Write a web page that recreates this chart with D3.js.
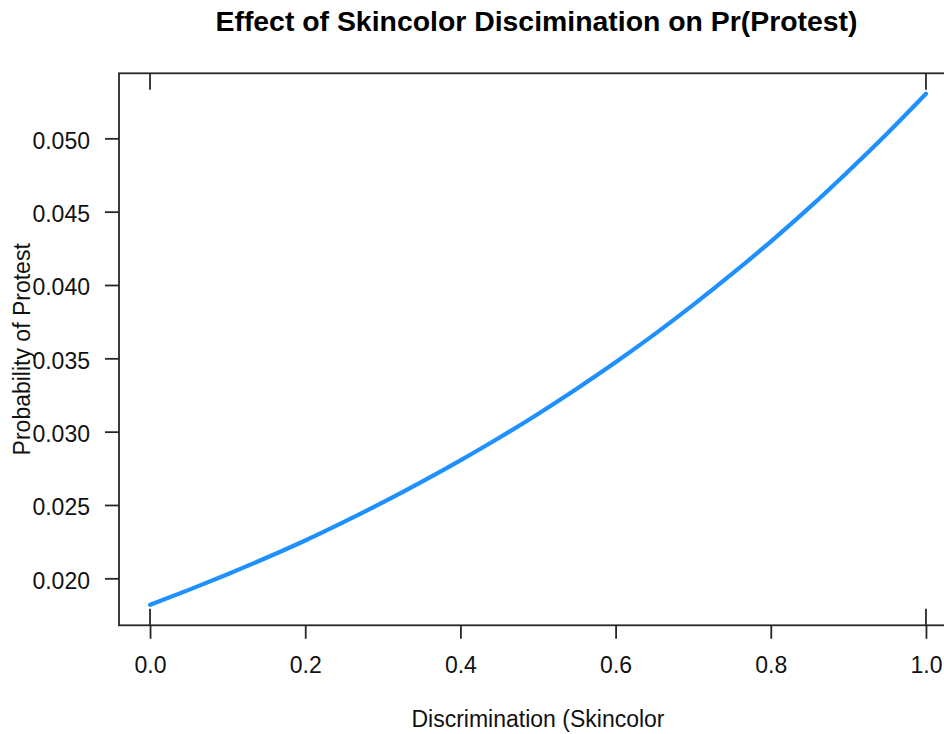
<!DOCTYPE html>
<html>
<head>
<meta charset="utf-8">
<script src="https://cdn.jsdelivr.net/npm/d3@7"></script>
<style>
  html, body { margin: 0; padding: 0; background: #fff; }
  svg { display: block; font-family: "Liberation Sans", Arial, sans-serif; }
</style>
</head>
<body>
<svg id="chart" width="944" height="734"></svg>
<script>
// Predicted probability of protest across the skincolor discrimination scale
const discrimination = [0.00, 0.05, 0.10, 0.15, 0.20, 0.25, 0.30, 0.35, 0.40, 0.45, 0.50,
                        0.55, 0.60, 0.65, 0.70, 0.75, 0.80, 0.85, 0.90, 0.95, 1.00];
const probProtest = [0.01819, 0.01921, 0.02028, 0.02140, 0.02258, 0.02385, 0.02517, 0.02657, 0.02804, 0.02958, 0.03121,
                     0.03293, 0.03473, 0.03663, 0.03864, 0.04075, 0.04296, 0.04529, 0.04776, 0.05033, 0.05304];
// Observed values of the discrimination variable (rug marks)
const rugValues = [0, 1];
const xTicks = [0.0, 0.2, 0.4, 0.6, 0.8, 1.0];
const yTicks = [0.020, 0.025, 0.030, 0.035, 0.040, 0.045, 0.050];

const titleText = "Effect of Skincolor Discimination on Pr(Protest)";
const xLabel = "Discrimination (Skincolor";
const yLabel = "Probability of Protest";

const svg = d3.select("#chart");
const W = 944, H = 734;
const plot = { left: 119, right: 957, top: 73.3, bottom: 625.3 };

// Base-graphics style 4% padding around the data range
function padded(ext) {
  const pad = (ext[1] - ext[0]) * 0.04;
  return [ext[0] - pad, ext[1] + pad];
}

const x = d3.scaleLinear().domain(padded(d3.extent(discrimination))).range([plot.left, plot.right]);
const y = d3.scaleLinear().domain(padded(d3.extent(probProtest))).range([plot.bottom, plot.top]);

svg.append("rect").attr("width", W).attr("height", H).attr("fill", "#fff");

const axisColor = "#262626";
const fontSize = 23;

// Bottom axis
const xAxis = d3.axisBottom(x).tickValues(xTicks).tickFormat(d3.format(".1f"))
  .tickSize(13.5).tickSizeOuter(0).tickPadding(0);
const gx = svg.append("g").attr("transform", `translate(0,${plot.bottom})`).call(xAxis);
gx.select(".domain").remove();
gx.selectAll(".tick line").attr("stroke", axisColor).attr("stroke-width", 1.8);
gx.selectAll(".tick text").attr("fill", "#111").attr("font-size", fontSize)
  .attr("dy", null).attr("y", 48);

// Left axis
const yAxis = d3.axisLeft(y).tickValues(yTicks).tickFormat(d3.format(".3f"))
  .tickSize(14).tickSizeOuter(0).tickPadding(0);
const gy = svg.append("g").attr("transform", `translate(${plot.left},0)`).call(yAxis);
gy.select(".domain").remove();
gy.selectAll(".tick line").attr("stroke", axisColor).attr("stroke-width", 1.8);
gy.selectAll(".tick text").attr("fill", "#111").attr("font-size", fontSize)
  .attr("x", -29).attr("dy", null).attr("y", 10);

// Probability curve
const line = d3.line()
  .x((d, i) => x(discrimination[i]))
  .y(d => y(d))
  .curve(d3.curveMonotoneX);

svg.append("path")
  .datum(probProtest)
  .attr("d", line)
  .attr("fill", "none")
  .attr("stroke", "#1E90FF")
  .attr("stroke-width", 4.2)
  .attr("stroke-linecap", "round")
  .attr("stroke-linejoin", "round");

// Rug marks on the bottom and top edges
const rugLen = (plot.bottom - plot.top) * 0.03;
const rug = svg.append("g").attr("stroke", axisColor).attr("stroke-width", 1.8);
rug.selectAll("line.bottom").data(rugValues).join("line").attr("class", "bottom")
  .attr("x1", d => x(d)).attr("x2", d => x(d))
  .attr("y1", plot.bottom).attr("y2", plot.bottom - rugLen);
rug.selectAll("line.top").data(rugValues).join("line").attr("class", "top")
  .attr("x1", d => x(d)).attr("x2", d => x(d))
  .attr("y1", plot.top).attr("y2", plot.top + rugLen);

// Plot frame
svg.append("rect")
  .attr("x", plot.left).attr("y", plot.top)
  .attr("width", plot.right - plot.left).attr("height", plot.bottom - plot.top)
  .attr("fill", "none").attr("stroke", axisColor).attr("stroke-width", 1.8);

// Titles
svg.append("text")
  .attr("x", (plot.left + plot.right) / 2 - 1.5).attr("y", 31)
  .attr("text-anchor", "middle").attr("font-weight", "bold").attr("font-size", 28.4)
  .attr("fill", "#000").text(titleText);

svg.append("text")
  .attr("x", (plot.left + plot.right) / 2).attr("y", 727)
  .attr("text-anchor", "middle").attr("font-size", fontSize)
  .attr("fill", "#111").text(xLabel);

svg.append("text")
  .attr("transform", `translate(30,${(plot.top + plot.bottom) / 2}) rotate(-90)`)
  .attr("text-anchor", "middle").attr("font-size", fontSize)
  .attr("fill", "#111").text(yLabel);
</script>
</body>
</html>
